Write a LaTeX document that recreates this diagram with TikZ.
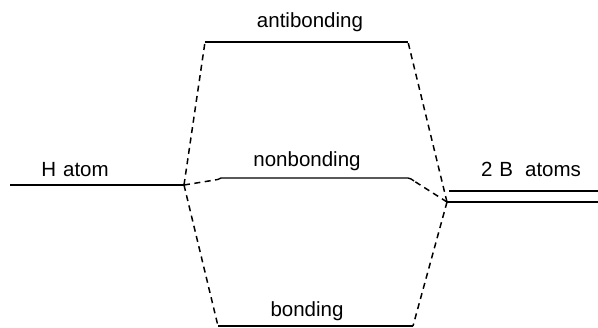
\documentclass[tikz,border=0pt]{standalone}
\usepackage{fontspec}
\setmainfont{Liberation Sans}
\usetikzlibrary{positioning}

\begin{document}
\begin{tikzpicture}[
  x=1pt, y=-1pt,
  lvl/.style={line width=1.4pt, line cap=butt},
  corr/.style={line width=1.5pt, dash pattern=on 6pt off 4.5pt},
  lbl/.style={font=\fontsize{20.5}{24}\selectfont, inner sep=0pt, anchor=base}
]
\useasboundingbox (0,0) rectangle (598,328);

% atomic levels
\coordinate (hL) at (10,185);
\coordinate (hR) at (184,185);
\coordinate (bL) at (447,202);
\coordinate (bR) at (598,202);
\coordinate (b2L) at (449,191);
\coordinate (b2R) at (598,191);

% molecular levels
\coordinate (abL) at (205,42);
\coordinate (abR) at (408,42);
\coordinate (nbL) at (215,180);
\coordinate (nbR) at (414,181);
\coordinate (bnL) at (218,326);
\coordinate (bnR) at (413,326);

\draw[lvl] (hL) -- (hR);
\draw[lvl] (bL) -- (bR);
\draw[lvl] (b2L) -- (b2R);
\draw[lvl] (abL) -- (abR);
\draw[lvl] (nbL) to[out=-30,in=180] (221,178) -- (408,178) to[out=0,in=150] (nbR);
\draw[lvl] (bnL) -- (bnR);

% correlation lines
\foreach \m in {abL,nbL,bnL}
  \draw[corr] (hR) -- (\m);
\foreach \m in {abR,nbR,bnR}
  \draw[corr] (bL) -- (\m);

% labels
\node[lbl] (hlbl)  at (75,177)  {H\hspace{7pt}atom};
\node[lbl] (blbl)  at (531,177) {2\hspace{7pt}B\hspace{12pt}atoms};
\node[lbl] (ablbl) at (310,28)  {antibonding};
\node[lbl] (nblbl) at (307,167) {nonbonding};
\node[lbl] (bnlbl) at (307,317) {bonding};

\end{tikzpicture}
\end{document}
